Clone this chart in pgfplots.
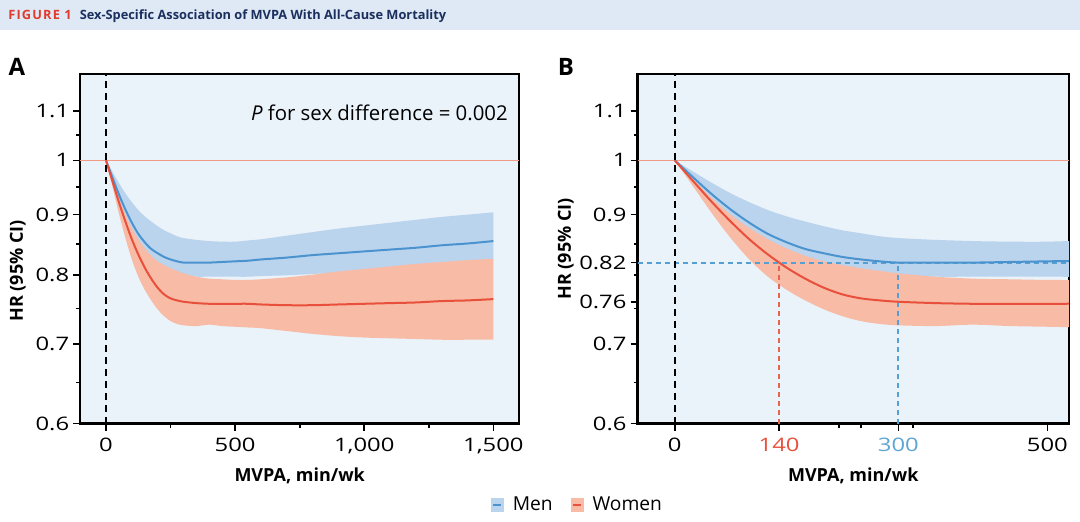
\documentclass[border=0pt]{standalone}
\usepackage{pgfplots}
\pgfplotsset{compat=1.18}
\usepgfplotslibrary{fillbetween}
\usepackage{pgfplotstable}
\usepackage{fontspec}
\setmainfont{Open Sans}
\newfontfamily\tickfont[FakeStretch=1.28]{Open Sans}

\definecolor{panelbg}{HTML}{EAF2FA}
\definecolor{titlebg}{HTML}{DEE9F5}
\definecolor{figred}{HTML}{E03A2E}
\definecolor{navy}{HTML}{1B2F5E}
\definecolor{menband}{HTML}{BAD4EE}
\definecolor{menline}{HTML}{4A93CE}
\definecolor{womenband}{HTML}{F8BBA6}
\definecolor{womenline}{HTML}{E8503C}
\definecolor{refline}{HTML}{F29A84}
\definecolor{menlab}{HTML}{5DA5D3}
\definecolor{mendash}{HTML}{569FD3}

% HR by MVPA (min/wk): men, men CI, women, women CI
\pgfplotstableread{
x    m     mlo   mhi   w     wlo   whi
0    1     1     1     1     1     1
25   0.967 0.958 0.978 0.960 0.950 0.963
50   0.936 0.918 0.957 0.922 0.902 0.929
75   0.909 0.882 0.938 0.888 0.860 0.900
100  0.886 0.856 0.922 0.858 0.825 0.877
125  0.867 0.838 0.908 0.833 0.798 0.858
150  0.853 0.826 0.897 0.812 0.778 0.843
175  0.842 0.817 0.888 0.795 0.762 0.831
200  0.835 0.811 0.880 0.781 0.749 0.822
225  0.829 0.806 0.873 0.771 0.739 0.816
250  0.825 0.803 0.868 0.765 0.732 0.811
275  0.822 0.801 0.863 0.762 0.728 0.807
300  0.820 0.799 0.860 0.760 0.726 0.803
350  0.820 0.798 0.857 0.758 0.725 0.798
400  0.820 0.798 0.855 0.757 0.727 0.795
450  0.821 0.798 0.854 0.757 0.725 0.794
500  0.822 0.798 0.854 0.757 0.724 0.793
550  0.823 0.798 0.856 0.757 0.723 0.793
600  0.825 0.799 0.858 0.756 0.722 0.794
700  0.828 0.800 0.864 0.755 0.718 0.797
800  0.832 0.802 0.870 0.755 0.714 0.801
900  0.835 0.804 0.876 0.756 0.711 0.806
1000 0.838 0.807 0.881 0.757 0.709 0.810
1100 0.841 0.810 0.886 0.758 0.708 0.814
1200 0.844 0.814 0.891 0.759 0.707 0.818
1300 0.848 0.817 0.896 0.761 0.706 0.821
1400 0.851 0.820 0.900 0.762 0.706 0.824
1500 0.855 0.823 0.904 0.764 0.706 0.826
}\hrdata

\begin{document}
\begin{tikzpicture}
\path (0,0) rectangle (540pt,-259.5pt);
\fill[titlebg] (0,0) rectangle (540pt,-15pt);
\node[anchor=base west, inner sep=0pt] at (4pt,-9.6pt)
  {\fontsize{6.4}{7}\selectfont\bfseries{\color{figred}\addfontfeatures{LetterSpace=9}FIGURE 1}\hspace{4pt}{\color{navy}Sex-Specific Association of MVPA With All-Cause Mortality}};
\node[font=\fontsize{12}{14}\selectfont\bfseries] at (8.5pt,-33.5pt) {A};
\node[font=\fontsize{12}{14}\selectfont\bfseries] at (283pt,-33.5pt) {B};

\begin{axis}[
  scale only axis, anchor=south west,
  at={(40.1pt,-211.75pt)}, width=219.5pt, height=174.65pt,
  ymode=log, ymin=0.6, ymax=1.182,
  xmin=-100, xmax=1600,
  axis background/.style={fill=panelbg},
  axis line style={line width=1.2pt},
  tick align=outside, xtick pos=lower, ytick pos=left,
  tick style={black, line width=0.8pt},
  major tick length=3.5pt, minor tick length=2pt,
  /pgf/number format/assume math mode=true,
  tick label style={font=\tickfont\fontsize{9.3}{10}\selectfont},
  yticklabel style={xshift=1.5pt},
  label style={font=\fontsize{9}{10}\selectfont\bfseries},
  xlabel={MVPA, min/wk}, ylabel={HR (95\% CI)},
  xlabel style={at={(axis description cs:0.5,-0.15)}, anchor=center},
  ylabel style={at={(axis description cs:-0.142,0.437)}, anchor=center},
  xtick={0,500,1000,1500}, xticklabels={0,500,{1,000},{1,500}},
  minor xtick={250,750,1250},
  ytick={0.6,0.7,0.8,0.9,1,1.1}, yticklabels={0.6,0.7,0.8,0.9,1,1.1},
  minor ytick={0.65,0.75,0.85,0.95,1.05},
  legend style={at={(1.135,-0.233)}, anchor=center, draw=none, fill=none,
    legend columns=2, font=\fontsize{9.6}{10}\selectfont,
    /tikz/every even column/.append style={column sep=7pt}},
]
\addplot[name path=mhi, draw=none, smooth, forget plot] table[x=x,y=mhi]{\hrdata};
\addplot[name path=mlo, draw=none, smooth, forget plot] table[x=x,y=mlo]{\hrdata};
\addplot[fill=menband, draw=none, forget plot] fill between[of=mhi and mlo];
\addplot[name path=whi, draw=none, smooth, forget plot] table[x=x,y=whi]{\hrdata};
\addplot[name path=wlo, draw=none, smooth, forget plot] table[x=x,y=wlo]{\hrdata};
\addplot[fill=womenband, draw=none, forget plot] fill between[of=whi and wlo];
\addplot[refline, line width=0.8pt, forget plot] coordinates {(-100,1) (1600,1)};
\addplot[menline, line width=1pt, smooth, forget plot] table[x=x,y=m]{\hrdata};
\addplot[womenline, line width=1pt, smooth, forget plot] table[x=x,y=w]{\hrdata};
\addplot[black, line width=1pt, dash pattern=on 3.5pt off 2.5pt, forget plot] coordinates {(0,0.6) (0,1.182)};
\node[anchor=east, inner sep=0pt, font=\fontsize{10.2}{11}\selectfont] at (axis description cs:0.975,0.889) {\textit{P} for sex difference = 0.002};
\addlegendimage{legend image code/.code={\fill[menband] (0pt,-3.2pt) rectangle (6pt,3.2pt); \draw[menline, line width=1pt] (1pt,0pt) -- (5pt,0pt);}}
\addlegendentry{\hspace{2.5pt}Men}
\addlegendimage{legend image code/.code={\fill[womenband] (0pt,-3.2pt) rectangle (6pt,3.2pt); \draw[womenline, line width=1pt] (1pt,0pt) -- (5pt,0pt);}}
\addlegendentry{\hspace{2.5pt}Women}
\end{axis}

\begin{axis}[
  scale only axis, anchor=south west,
  at={(318.75pt,-211.75pt)}, width=215.75pt, height=174.65pt,
  ymode=log, ymin=0.6, ymax=1.182,
  xmin=-50, xmax=529,
  axis background/.style={fill=panelbg},
  axis line style={line width=1.2pt},
  tick align=outside, xtick pos=lower, ytick pos=left,
  tick style={black, line width=0.8pt},
  major tick length=3.5pt, minor tick length=2pt,
  /pgf/number format/assume math mode=true,
  tick label style={font=\tickfont\fontsize{9.3}{10}\selectfont},
  yticklabel style={xshift=1.5pt},
  label style={font=\fontsize{9}{10}\selectfont\bfseries},
  xlabel={MVPA, min/wk}, ylabel={HR (95\% CI)},
  xlabel style={at={(axis description cs:0.5,-0.15)}, anchor=center},
  ylabel style={at={(axis description cs:-0.166,0.5)}, anchor=center},
  xtick={0,140,300,500}, xticklabels={0,{\color{womenline}140},{\color{menlab}300},500},
  minor xtick={220,250,320},
  ytick={0.6,0.7,0.76,0.82,0.9,1,1.1}, yticklabels={0.6,0.7,0.76,0.82,0.9,1,1.1},
  minor ytick={0.65,0.75,0.8,0.85,0.95,1.05},
]
\addplot[name path=mhi, draw=none, smooth] table[x=x,y=mhi]{\hrdata};
\addplot[name path=mlo, draw=none, smooth] table[x=x,y=mlo]{\hrdata};
\addplot[fill=menband, draw=none] fill between[of=mhi and mlo];
\addplot[name path=whi, draw=none, smooth] table[x=x,y=whi]{\hrdata};
\addplot[name path=wlo, draw=none, smooth] table[x=x,y=wlo]{\hrdata};
\addplot[fill=womenband, draw=none] fill between[of=whi and wlo];
\addplot[refline, line width=0.8pt] coordinates {(-50,1) (529,1)};
\addplot[mendash, line width=1pt, dash pattern=on 2.5pt off 2pt] coordinates {(-50,0.82) (529,0.82)};
\addplot[womenline!90, line width=1pt, dash pattern=on 2.5pt off 2pt] coordinates {(140,0.6) (140,0.82)};
\addplot[mendash, line width=1pt, dash pattern=on 2.5pt off 2pt] coordinates {(300,0.6) (300,0.82)};
\addplot[menline, line width=1pt, smooth] table[x=x,y=m]{\hrdata};
\addplot[womenline, line width=1pt, smooth] table[x=x,y=w]{\hrdata};
\addplot[black, line width=1pt, dash pattern=on 3.5pt off 2.5pt] coordinates {(0,0.6) (0,1.182)};
\end{axis}
\end{tikzpicture}
\end{document}
